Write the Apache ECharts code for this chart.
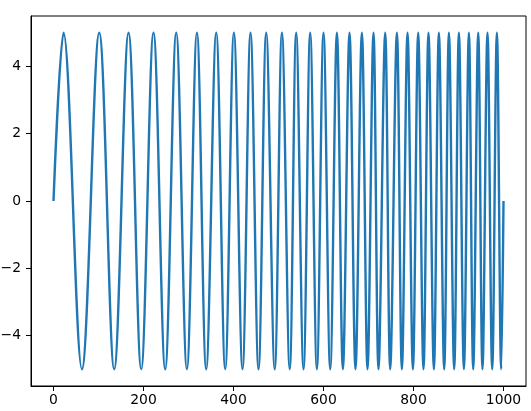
<!DOCTYPE html>
<html>
<head>
<meta charset="utf-8">
<script src="https://cdn.jsdelivr.net/npm/echarts@6/dist/echarts.min.js"></script>
<style>
html,body{margin:0;padding:0;background:#fff;}
#chart{width:531px;height:411px;}
</style>
</head>
<body>
<div id="chart"></div>
<script>
// Values
const startPoint = [0, 0];
const endPoint = [1000, 0];
const peakX = [22.2, 101.6, 166.7, 222.2, 272.7, 318.7, 361.6, 400.9, 437.8, 472.7,
  507.6, 539.3, 570.4, 600.0, 629.8, 657.8, 685.3, 711.1, 737.1, 763.1,
  786.7, 810.4, 833.3, 856.4, 878.7, 900.9, 923.1, 943.8, 964.4, 985.3];
const peakY = peakX.map(() => 5);
const troughX = [63.1, 134.9, 194.9, 248.2, 296.4, 339.3, 381.6, 420.0, 455.6, 491.6,
  524.9, 555.6, 585.3, 614.9, 643.1, 671.1, 697.8, 722.2, 748.2, 774.2,
  798.7, 822.2, 845.3, 868.2, 890.4, 912.0, 932.7, 953.3, 974.9, 994.9];
const troughY = troughX.map(() => -5);
const xTicks = [0, 200, 400, 600, 800, 1000];
const yTicks = [-4, -2, 0, 2, 4];

const data = [startPoint];
for (let i = 0; i < peakX.length; i++) {
  data.push([peakX[i], peakY[i]]);
  data.push([troughX[i], troughY[i]]);
}
data.push(endPoint);

const fmt = v => String(v).replace('-', '\u2212');
const labelFont = { fontFamily: 'DejaVu Sans', fontSize: 13.9, color: '#000' };

const chart = echarts.init(document.getElementById('chart'), null, { renderer: 'canvas' });
chart.setOption({
  animation: false,
  backgroundColor: '#fff',
  grid: { left: 31, right: 5, top: 16, bottom: 25, containLabel: false, outerBoundsMode: 'none',
          show: true, borderColor: '#000', borderWidth: 1, backgroundColor: 'transparent' },
  xAxis: {
    type: 'value', min: -50, max: 1050,
    axisLine: { show: true, onZero: false, lineStyle: { color: '#000', width: 1 } },
    axisTick: { show: true, inside: false, length: 5, customValues: xTicks, lineStyle: { color: '#000', width: 1 } },
    axisLabel: Object.assign({ margin: 7, customValues: xTicks, formatter: fmt }, labelFont),
    splitLine: { show: false }
  },
  yAxis: {
    type: 'value', min: -5.5, max: 5.5,
    axisLine: { show: true, onZero: false, lineStyle: { color: '#000', width: 1 } },
    axisTick: { show: true, inside: false, length: 5, customValues: yTicks, lineStyle: { color: '#000', width: 1 } },
    axisLabel: Object.assign({ margin: 10, customValues: yTicks, formatter: fmt }, labelFont),
    splitLine: { show: false }
  },
  series: [{
    type: 'line',
    data: data,
    smooth: 0.36,
    showSymbol: false,
    symbol: 'none',
    lineStyle: { color: '#1f77b4', width: 2.4 },
    clip: false
  }]
});
</script>
</body>
</html>
